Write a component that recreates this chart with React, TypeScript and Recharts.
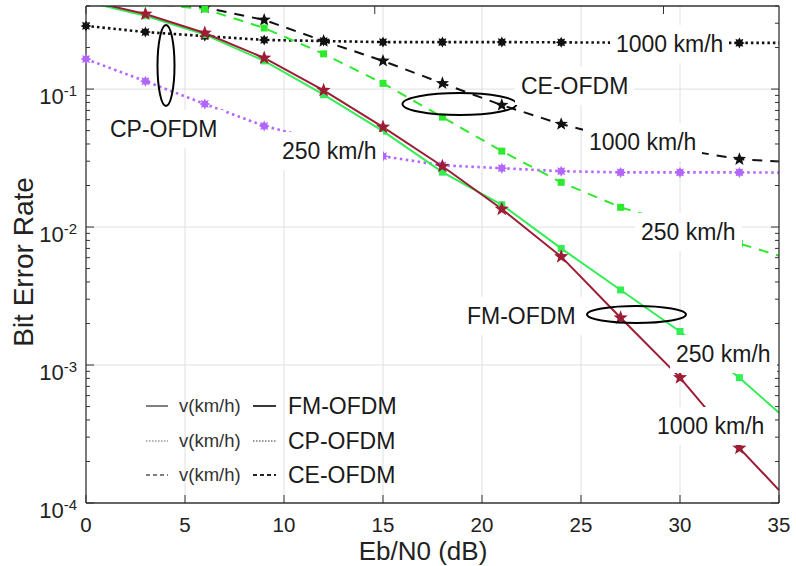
import React from "react";
import { LineChart, Line, XAxis, YAxis, CartesianGrid } from "recharts";

const FONT = '"Liberation Sans", Arial, Helvetica, sans-serif';

// Eb/N0 (dB) sample points
const ebn0 = [0, 3, 6, 9, 12, 15, 18, 21, 24, 27, 30, 33, 35];

// FM-OFDM
const fm1000 = [0.44, 0.35, 0.255, 0.168, 0.098, 0.053, 0.0276, 0.0135, 0.0061, 0.0022, 0.00081, 0.00025, 0.000124];
const fm250 = [0.43, 0.34, 0.248, 0.16, 0.091, 0.0495, 0.025, 0.0145, 0.007, 0.0035, 0.00175, 0.00081, 0.00045];
// CP-OFDM
const cp1000 = [0.287, 0.259, 0.242, 0.227, 0.223, 0.219, 0.219, 0.219, 0.218, 0.217, 0.217, 0.216, 0.216];
const cp250 = [0.165, 0.114, 0.078, 0.054, 0.042, 0.0326, 0.028, 0.0267, 0.0254, 0.0249, 0.0249, 0.0249, 0.0248];
// CE-OFDM
const ce1000 = [null, 0.44, 0.39, 0.317, 0.223, 0.16, 0.11, 0.0765, 0.0557, 0.0433, 0.0366, 0.031, 0.0299];
const ce250 = [null, 0.42, 0.38, 0.277, 0.18, 0.11, 0.0626, 0.0355, 0.0211, 0.0139, 0.0103, 0.0076, 0.0062];

const xTicks = [0, 5, 10, 15, 20, 25, 30, 35];
const xGrid = [5, 10, 15, 20, 25, 30];
const yMajor = [1e-4, 1e-3, 1e-2, 1e-1];
const yExp = ["-4", "-3", "-2", "-1"];
const yGrid = [1e-3, 1e-2, 1e-1];
const yMinor = yMajor
  .flatMap((d) => [2, 3, 4, 5, 6, 7, 8, 9].map((m) => +(m * d).toPrecision(3)))
  .filter((v) => v <= 0.4);
const yTicks = [...yMajor, ...yMinor];

const data = ebn0.map((x, i) => ({
  x,
  fm1000: fm1000[i],
  fm250: fm250[i],
  cp1000: cp1000[i],
  cp250: cp250[i],
  ce1000: ce1000[i],
  ce250: ce250[i],
}));

const RED = "#9c1d35";
const GREEN = "#33ee55";
const GREEN_D = "#2eea2e";
const PURPLE = "#b266ff";
const BLACK = "#111";

function starPoints(cx: number, cy: number, n: number, R: number, r: number) {
  const pts: string[] = [];
  for (let k = 0; k < n * 2; k++) {
    const a = (-90 + (k * 180) / n) * (Math.PI / 180);
    const rad = k % 2 === 0 ? R : r;
    pts.push(`${(cx + rad * Math.cos(a)).toFixed(2)},${(cy + rad * Math.sin(a)).toFixed(2)}`);
  }
  return pts.join(" ");
}

const makeDot = (shape: string, color: string, size: number) => (p: any) => {
  const { cx, cy, payload, index, dataKey } = p;
  const key = `${dataKey}-${index}`;
  if (!Number.isFinite(cx) || !Number.isFinite(cy) || payload.x % 3 !== 0 || payload[dataKey] == null) {
    return <g key={key} />;
  }
  if (shape === "square") {
    return <rect key={key} x={cx - size / 2} y={cy - size / 2} width={size} height={size} fill={color} />;
  }
  if (shape === "star") {
    return <polygon key={key} points={starPoints(cx, cy, 5, size, size * 0.42)} fill={color} />;
  }
  return <polygon key={key} points={starPoints(cx, cy, 8, size, size * 0.6)} fill={color} />;
};

const LeftTick = (p: any) => {
  const { x, y, payload } = p;
  const i = yMajor.indexOf(payload.value);
  const major = i >= 0;
  return (
    <g>
      <line x1={x} x2={x + (major ? 8 : 4)} y1={y} y2={y} stroke="#333" />
      {major && (
        <text x={x - 9} y={y + 15} textAnchor="end" fontSize={22} fill="#222" fontFamily={FONT}>
          10
          <tspan dy={-8} fontSize={15}>
            {yExp[i]}
          </tspan>
        </text>
      )}
    </g>
  );
};

const RightTick = (p: any) => {
  const { x, y, payload } = p;
  const major = yMajor.indexOf(payload.value) >= 0;
  return <line x1={x} x2={x - (major ? 8 : 4)} y1={y} y2={y} stroke="#333" />;
};

const BottomTick = (p: any) => {
  const { x, y, payload } = p;
  return (
    <g>
      <line x1={x} x2={x} y1={y} y2={y - 8} stroke="#333" />
      <text x={x} y={y + 29} textAnchor="middle" fontSize={20.5} fill="#222" fontFamily={FONT}>
        {payload.value}
      </text>
    </g>
  );
};

const TopTick = (p: any) => {
  const { x, y } = p;
  return <line x1={x} x2={x} y1={y} y2={y + 8} stroke="#333" />;
};

const labels = [
  { text: "1000 km/h", left: 616, cy: 44 },
  { text: "CE-OFDM", left: 521, cy: 86 },
  { text: "1000 km/h", left: 589, cy: 142 },
  { text: "250 km/h", left: 282, cy: 151 },
  { text: "CP-OFDM", left: 110, cy: 129 },
  { text: "250 km/h", left: 641, cy: 232 },
  { text: "FM-OFDM", left: 467, cy: 316 },
  { text: "250 km/h", left: 676, cy: 354 },
  { text: "1000 km/h", left: 657, cy: 426 },
];

const legendRows = [
  { name: "FM-OFDM", cy: 406, dash: undefined as string | undefined },
  { name: "CP-OFDM", cy: 441, dash: "1.5 1.5" },
  { name: "CE-OFDM", cy: 475, dash: "4 3" },
];

export default function App() {
  return (
    <div style={{ position: "absolute", left: 0, top: 0, width: 796, height: 566, background: "#fff" }}>
      <LineChart width={796} height={566} data={data} margin={{ top: 5, right: 0, bottom: 0, left: 8 }}>
        <CartesianGrid
          stroke="#e0e0e0"
          horizontalValues={yGrid}
          verticalValues={xGrid}
        />
        <XAxis
          dataKey="x"
          type="number"
          domain={[0, 35]}
          ticks={xTicks}
          interval={0}
          height={63}
          tickSize={0}
          tickMargin={0}
          tickLine={false}
          tick={BottomTick}
          axisLine={{ stroke: "#333", strokeWidth: 1.3 }}
        />
        <XAxis
          xAxisId="top"
          orientation="top"
          type="number"
          domain={[0, 35]}
          allowDataOverflow
          ticks={xTicks}
          interval={0}
          height={1}
          tickSize={0}
          tickMargin={0}
          tickLine={false}
          tick={TopTick}
          axisLine={{ stroke: "#333", strokeWidth: 1.3 }}
        />
        <YAxis
          scale="log"
          type="number"
          domain={[1e-4, 0.4]}
          allowDataOverflow
          ticks={yTicks}
          interval={0}
          width={78}
          tickSize={0}
          tickMargin={0}
          tickLine={false}
          tick={LeftTick}
          axisLine={{ stroke: "#333", strokeWidth: 1.3 }}
        />
        <YAxis
          yAxisId="right"
          orientation="right"
          scale="log"
          type="number"
          domain={[1e-4, 0.4]}
          allowDataOverflow
          ticks={yTicks}
          interval={0}
          width={17}
          tickSize={0}
          tickMargin={0}
          tickLine={false}
          tick={RightTick}
          axisLine={{ stroke: "#333", strokeWidth: 1.3 }}
        />
        <Line dataKey="cp1000" stroke={BLACK} strokeWidth={2.6} strokeDasharray="2.5 3" dot={makeDot("ast", BLACK, 5.5)} activeDot={false} isAnimationActive={false} />
        <Line dataKey="cp250" stroke={PURPLE} strokeWidth={2.6} strokeDasharray="2.5 3.5" dot={makeDot("ast", PURPLE, 5.5)} activeDot={false} isAnimationActive={false} />
        <Line dataKey="ce1000" stroke={BLACK} strokeWidth={2} strokeDasharray="10 8" dot={makeDot("star", BLACK, 7)} activeDot={false} isAnimationActive={false} />
        <Line dataKey="ce250" stroke={GREEN_D} strokeWidth={2} strokeDasharray="10 8" dot={makeDot("square", GREEN_D, 7)} activeDot={false} isAnimationActive={false} />
        <Line dataKey="fm250" stroke={GREEN} strokeWidth={2} dot={makeDot("square", GREEN, 7)} activeDot={false} isAnimationActive={false} />
        <Line dataKey="fm1000" stroke={RED} strokeWidth={2} dot={makeDot("star", RED, 7.5)} activeDot={false} isAnimationActive={false} />
      </LineChart>

      <svg width={796} height={566} style={{ position: "absolute", left: 0, top: 0, pointerEvents: "none" }}>
        <ellipse cx={166} cy={65.5} rx={8.5} ry={40.5} fill="none" stroke="#000" strokeWidth={2} />
        <ellipse cx={459.5} cy={104} rx={57} ry={11} fill="none" stroke="#000" strokeWidth={2} />
        <ellipse cx={636.5} cy={314.5} rx={49.5} ry={8.5} fill="none" stroke="#000" strokeWidth={2} />
        {legendRows.map((r) => (
          <g key={r.name}>
            <line x1={146} x2={168} y1={r.cy} y2={r.cy} stroke={r.dash === "1.5 1.5" ? "#999" : "#555"} strokeWidth={1.5} strokeDasharray={r.dash} />
            <text x={179} y={r.cy + 6} fontSize={18.5} fill="#333" fontFamily={FONT}>
              v(km/h)
            </text>
            <line x1={253} x2={276} y1={r.cy} y2={r.cy} stroke={r.dash === "1.5 1.5" ? "#999" : "#222"} strokeWidth={1.8} strokeDasharray={r.dash} />
            <text x={288} y={r.cy + 8} fontSize={23} fill="#1a1a1a" fontFamily={FONT}>
              {r.name}
            </text>
          </g>
        ))}
        <text x={423} y={560} textAnchor="middle" fontSize={26} fill="#222" fontFamily={FONT}>
          Eb/N0 (dB)
        </text>
        <text transform="translate(33,262) rotate(-90)" textAnchor="middle" fontSize={28} fill="#222" fontFamily={FONT}>
          Bit Error Rate
        </text>
      </svg>

      {labels.map((l, i) => (
        <div
          key={i}
          style={{
            position: "absolute",
            left: l.left - 6,
            top: l.cy - 19,
            padding: "9px 6px",
            lineHeight: "20px",
            fontSize: 23,
            fontFamily: FONT,
            color: "#1a1a1a",
            background: "#fff",
            whiteSpace: "nowrap",
          }}
        >
          {l.text}
        </div>
      ))}
    </div>
  );
}
